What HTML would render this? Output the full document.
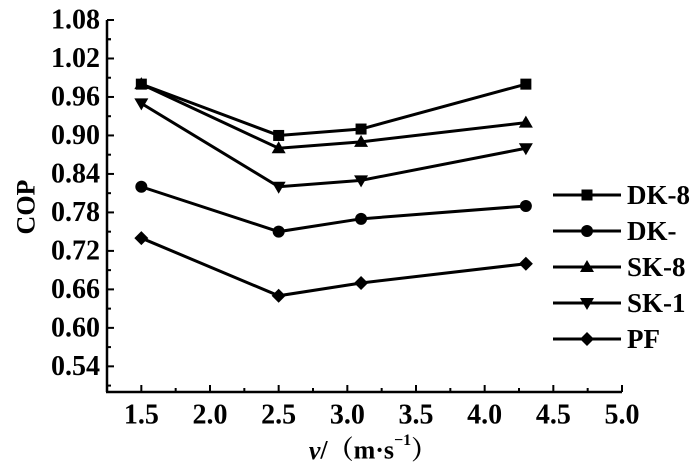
<!DOCTYPE html>
<html><head><meta charset="utf-8"><style>
html,body{margin:0;padding:0;background:#fff}
svg{display:block}
text{font-family:"Liberation Serif","DejaVu Serif","Noto Serif CJK SC",serif;font-weight:bold}
</style></head><body>
<svg id="chart" width="700" height="467" viewBox="0 0 700 467">
<g id="axes"></g><g id="series"></g><g id="legend"></g>
<text x="26" y="207" transform="rotate(-90 26 207)" text-anchor="middle" dominant-baseline="central" font-size="26" font-family="Liberation Serif, DejaVu Serif, serif" font-weight="bold">COP</text>
<text x="373" y="450" text-anchor="middle" dominant-baseline="central" font-size="26" font-family="Liberation Serif, Noto Serif CJK SC, serif" font-weight="bold"><tspan font-style="italic">v</tspan>/（m·s<tspan font-size="16" dy="-10">−1</tspan><tspan dy="10">）</tspan></text>
</svg>
<script>
const xValues=[1.5,2.5,3.1,4.3];
const seriesNames=["DK-8","DK-","SK-8","SK-1","PF"];
const dk8=[0.98,0.90,0.91,0.98];
const dkm=[0.82,0.75,0.77,0.79];
const sk8=[0.98,0.88,0.89,0.92];
const sk1=[0.95,0.82,0.83,0.88];
const pf=[0.74,0.65,0.67,0.70];
const markers=["square","circle","up","down","diamond"];
const yTicks=["0.54","0.60","0.66","0.72","0.78","0.84","0.90","0.96","1.02","1.08"];
const xTicks=["1.5","2.0","2.5","3.0","3.5","4.0","4.5","5.0"];
const allSeries=[dk8,dkm,sk8,sk1,pf];
const NS="http://www.w3.org/2000/svg";
const L=107,R=622,T=20,B=392,X0=1.25,X1=5.0,Y0=0.50,Y1=1.08;
const FONT="Liberation Serif, DejaVu Serif, serif";
const xs=v=>L+(v-X0)/(X1-X0)*(R-L);
const ys=v=>B-(v-Y0)/(Y1-Y0)*(B-T);
function mk(tag,attrs,parent){const e=document.createElementNS(NS,tag);for(const k in attrs)e.setAttribute(k,attrs[k]);parent.appendChild(e);return e;}
const axes=document.getElementById('axes');
let yl=mk('line',{x1:L,y1:T,x2:L,y2:B,stroke:'#000','stroke-width':2.5},axes);


let xl=mk('line',{x1:L-1,y1:B,x2:R,y2:B,stroke:'#000','stroke-width':2.5},axes);


yTicks.forEach(t=>{const v=parseFloat(t),y=ys(v);
 mk('line',{x1:L,y1:y,x2:L+7,y2:y,stroke:'#000','stroke-width':2},axes);
 const m=ys(v-0.03);mk('line',{x1:L,y1:m,x2:L+4,y2:m,stroke:'#000','stroke-width':2},axes);
 const tx=mk('text',{x:L-7,y:y,'text-anchor':'end','dominant-baseline':'central','font-size':28,'font-family':FONT,'font-weight':'bold'},axes);tx.textContent=t;
 
 
});
mk('line',{x1:L,y1:ys(1.05),x2:L+4,y2:ys(1.05),stroke:'#000','stroke-width':2},axes);
xTicks.forEach(t=>{const v=parseFloat(t),x=xs(v);
 mk('line',{x1:x,y1:B,x2:x,y2:B-7,stroke:'#000','stroke-width':2},axes);
 const m=xs(v-0.25);mk('line',{x1:m,y1:B,x2:m,y2:B-4,stroke:'#000','stroke-width':2},axes);
 const tx=mk('text',{x:x,y:415,'text-anchor':'middle','dominant-baseline':'central','font-size':28,'font-family':FONT,'font-weight':'bold'},axes);tx.textContent=t;
 
 
});
function marker(type,x,y,g){
 if(type==='square')return mk('rect',{x:x-5.5,y:y-5.5,width:11,height:11,fill:'#000'},g);
 if(type==='circle')return mk('circle',{cx:x,cy:y,r:6,fill:'#000'},g);
 if(type==='up')return mk('polygon',{points:`${x},${y-7} ${x+7},${y+5} ${x-7},${y+5}`,fill:'#000'},g);
 if(type==='down')return mk('polygon',{points:`${x},${y+7} ${x+7},${y-5} ${x-7},${y-5}`,fill:'#000'},g);
 return mk('polygon',{points:`${x},${y-7} ${x+7},${y} ${x},${y+7} ${x-7},${y}`,fill:'#000'},g);
}
const sg=document.getElementById('series');
allSeries.forEach((s,i)=>{
 const g=mk('g',{},sg);
 
 
 mk('polyline',{points:s.map((v,j)=>xs(xValues[j])+','+ys(v)).join(' '),fill:'none',stroke:'#000','stroke-width':3},g);
 s.forEach((v,j)=>{const m=marker(markers[i],xs(xValues[j]),ys(v),g);
  
  });
});
const lg=document.getElementById('legend');
seriesNames.forEach((n,i)=>{
 const y=195+i*36;
 const g=mk('g',{},lg);
 
 
 mk('line',{x1:553,y1:y,x2:621,y2:y,stroke:'#000','stroke-width':3},g);
 marker(markers[i],587,y,g);
 const t=mk('text',{x:627,y:y,'dominant-baseline':'central','font-size':27,'font-family':FONT,'font-weight':'bold'},g);t.textContent=n;
});
</script>
</body></html>
